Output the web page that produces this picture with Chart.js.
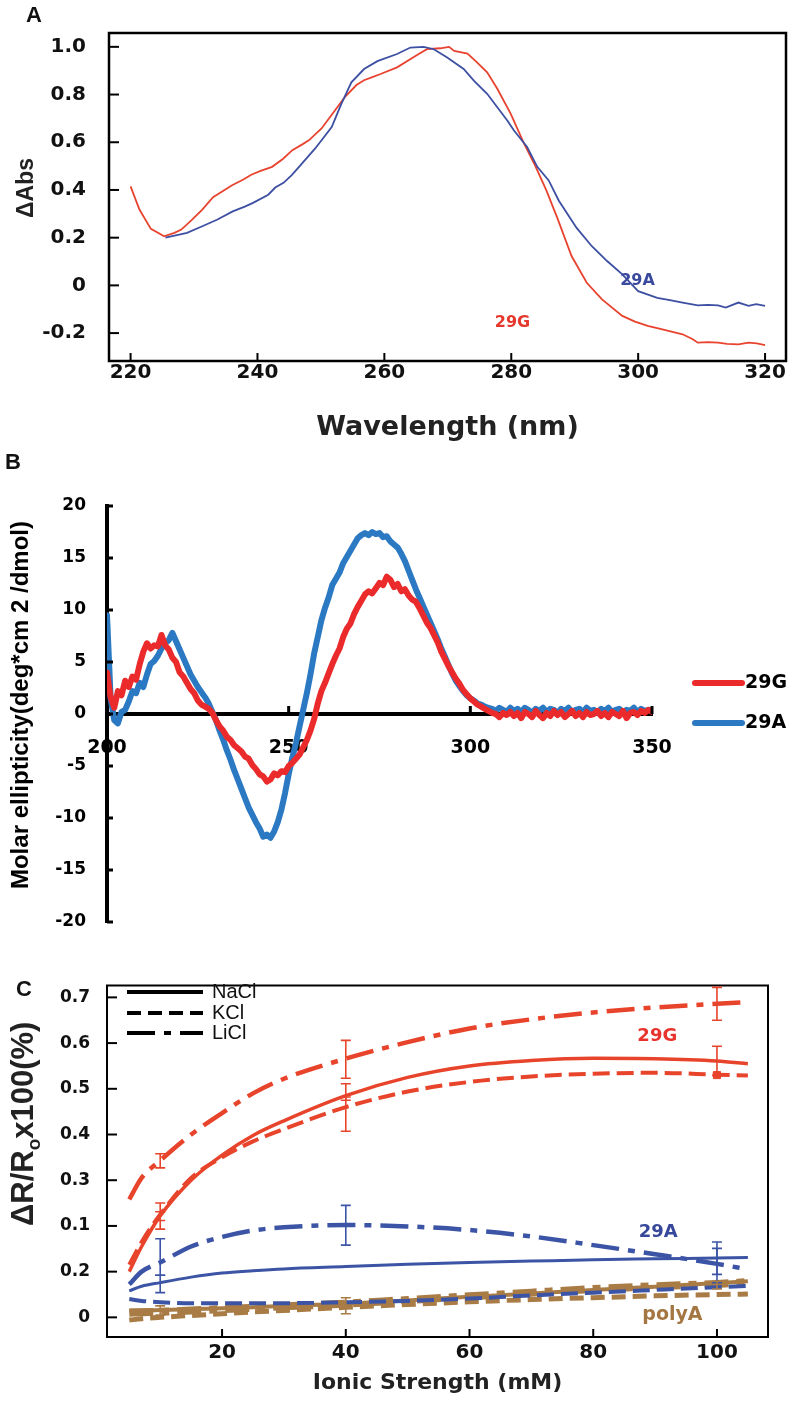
<!DOCTYPE html>
<html>
<head>
<meta charset="utf-8">
<script src="https://cdn.jsdelivr.net/npm/chart.js@4.4.1/dist/chart.umd.min.js"></script>
<style>
  html, body { margin: 0; padding: 0; background: #fff; }
  #wrap { position: relative; width: 792px; height: 1401px; overflow: hidden; }
  canvas { position: absolute; left: 0; }
</style>
</head>
<body>
<div id="wrap">
  <canvas id="chartA" width="792" height="450" style="top:0px"></canvas>
  <canvas id="chartB" width="792" height="510" style="top:450px"></canvas>
  <canvas id="chartC" width="792" height="441" style="top:960px"></canvas>
</div>
<script>
// ---- panel A : absorbance difference spectra ----
const absWaveG = [220, 221.4, 223.2, 225.3, 226.9, 228, 229.7, 231.3, 233, 234.5, 236, 237.7, 239.1, 240.5, 242.3,
  244, 245.5, 247, 248.1, 250.1, 252.2, 253.8, 255.6, 256.8, 258, 259.4, 262, 264.9, 266.7, 268.8,
  270.2, 271, 273.1, 274.6, 276.2, 277.8, 279.9, 282, 283.6, 285.5, 287.3, 289.5, 291.9, 294.3, 297.5,
  299.5, 301.5, 303.5, 305.4, 307, 308.6, 309.4, 311, 312.6, 314, 315.8, 317.4, 318.7, 320];
const absG = [0.415, 0.318, 0.237, 0.206, 0.22, 0.234, 0.276, 0.318, 0.37, 0.395, 0.42, 0.443, 0.465, 0.48, 0.497,
  0.53, 0.567, 0.59, 0.608, 0.658, 0.733, 0.79, 0.84, 0.86, 0.872, 0.886, 0.914, 0.962, 0.99, 0.994,
  1.0, 0.983, 0.972, 0.935, 0.893, 0.824, 0.72, 0.595, 0.511, 0.40, 0.28, 0.123, 0.011, -0.059, -0.128,
  -0.152, -0.17, -0.182, -0.195, -0.205, -0.226, -0.24, -0.238, -0.24, -0.245, -0.247, -0.24, -0.243, -0.25];
const absWaveA = [225.5, 228.9, 231.3, 233.7, 236.1, 238, 239.3, 241.7, 242.8, 244.1, 245.4, 247, 249.1, 251.7, 253.2,
  254.8, 256.8, 258.9, 262, 264.1, 266.2, 267.8, 269.9, 272.5, 274.1, 276.2, 277.8, 279.4, 280.4, 282.5,
  284.1, 285.9, 287.5, 290.3, 292.7, 295.1, 297.5, 300, 303, 305, 307, 309.4, 311, 312.6, 313.8,
  315.8, 317.4, 318.6, 320];
const absA = [0.2, 0.22, 0.248, 0.276, 0.31, 0.33, 0.346, 0.38, 0.41, 0.43, 0.4625, 0.51, 0.574, 0.664, 0.76,
  0.851, 0.907, 0.94, 0.97, 0.997, 1.0, 0.99, 0.955, 0.907, 0.858, 0.803, 0.747, 0.69, 0.65, 0.58,
  0.497, 0.44, 0.355, 0.241, 0.164, 0.102, 0.046, -0.024, -0.052, -0.062, -0.072, -0.084, -0.082, -0.084, -0.093,
  -0.072, -0.086, -0.079, -0.086];

// ---- panel B : CD spectra, 1 nm steps from 200 to 350 nm ----
const cdStart = 200;
const cd29G = [
  4.0, 1.6, 0.6, 2.2, 1.8, 3.2, 2.6, 3.6, 3.3, 4.8,
  6.0, 6.8, 6.3, 6.6, 6.5, 7.6, 6.6, 6.2, 5.4, 5.0,
  4.0, 3.6, 3.0, 2.4, 2.0, 1.3, 0.9, 0.7, 0.5, 0.1,
  -0.6, -1.2, -1.6, -2.2, -2.5, -3.0, -3.3, -3.6, -4.1, -4.3,
  -4.9, -5.3, -5.8, -6.0, -6.5, -6.3, -5.7, -5.9, -5.5, -5.6,
  -5.0, -4.7, -4.3, -3.9, -3.2, -2.5, -1.6, -0.5, 1.0, 2.2,
  3.0, 3.9, 4.8, 5.6, 6.3, 7.4, 8.2, 8.7, 9.6, 10.3,
  10.9, 11.5, 11.8, 11.6, 12.1, 12.6, 12.4, 13.2, 12.9, 12.2,
  12.5, 11.8, 12.0, 11.4, 11.0, 10.8, 10.2, 9.5, 8.8, 8.3,
  7.6, 6.9, 6.0, 5.3, 4.6, 4.0, 3.4, 2.9, 2.3, 1.9,
  1.5, 1.2, 0.9, 0.7, 0.5, 0.3, 0.1, 0.0, -0.3, 0.1,
  -0.1, 0.2, -0.2, 0.1, -0.4, 0.2, 0.0, -0.3, 0.3, -0.1,
  -0.4, 0.1, -0.2, 0.3, -0.1, 0.2, -0.3, 0.0, 0.3, -0.2,
  0.1, -0.3, 0.2, -0.1, 0.0, 0.3, -0.2, 0.1, -0.3, 0.2,
  0.0, -0.2, 0.3, -0.4, 0.1, 0.2, -0.1, 0.3, 0.1, 0.4,
  0.2];
const cd29A = [
  9.5, 1.5, -0.6, -0.9, 0.2, 0.4, 1.2, 2.2, 2.0, 3.0,
  2.6, 3.8, 4.8, 5.1, 5.6, 6.3, 6.8, 7.1, 7.8, 7.0,
  6.2, 5.4, 4.6, 3.8, 3.2, 2.6, 2.1, 1.6, 1.0, 0.2,
  -0.6, -1.6, -2.5, -3.5, -4.4, -5.4, -6.3, -7.2, -8.1, -9.0,
  -9.7, -10.4, -11.0, -11.8, -11.6, -11.9, -11.3, -10.4, -9.2, -7.6,
  -5.8, -4.2, -2.8, -1.2, 0.4, 2.0, 3.8, 5.8, 7.4, 9.0,
  10.2, 11.2, 12.4, 13.0, 13.6, 14.5, 15.1, 15.7, 16.3, 16.9,
  17.2, 17.4, 17.2, 17.5, 17.3, 17.4, 17.0, 17.1, 16.6, 16.3,
  16.0, 15.4, 14.7, 13.8, 12.9, 12.0, 11.2, 10.4, 9.6, 8.8,
  8.0, 7.2, 6.3, 5.5, 4.7, 3.9, 3.2, 2.7, 2.2, 1.8,
  1.5, 1.3, 1.0, 0.9, 0.7, 0.6, 0.5, 0.3, 0.6, 0.4,
  0.2, 0.6, 0.3, 0.5, 0.2, 0.6, 0.4, 0.1, 0.5, 0.3,
  0.6, 0.2, 0.5, 0.4, 0.1, 0.5, 0.3, 0.6, 0.2, 0.4,
  0.5, 0.2, 0.6, 0.3, 0.4, 0.1, 0.5, 0.3, 0.6, 0.2,
  0.4, 0.5, 0.2, 0.4, 0.3, 0.6, 0.2, 0.5, 0.3, 0.4,
  0.3];

// ---- panel C : fitted curves vs ionic strength (y in axis position units) ----
const ionicX   = [5, 7, 10, 15, 20, 25, 30, 40, 50, 60, 70, 80, 90, 100, 105];
const g29NaCl  = [0.10, 0.155, 0.222, 0.30, 0.355, 0.398, 0.43, 0.485, 0.525, 0.55, 0.562, 0.567, 0.566, 0.561, 0.555];
const g29KCl   = [0.115, 0.165, 0.225, 0.305, 0.35, 0.385, 0.412, 0.46, 0.494, 0.515, 0.527, 0.533, 0.535, 0.531, 0.529];
const g29LiCl  = [0.258, 0.305, 0.343, 0.40, 0.447, 0.49, 0.522, 0.566, 0.602, 0.632, 0.652, 0.667, 0.678, 0.686, 0.69];
const a29NaCl  = [0.058, 0.068, 0.076, 0.088, 0.097, 0.102, 0.106, 0.111, 0.116, 0.12, 0.123, 0.126, 0.128, 0.13, 0.131];
const a29KCl   = [0.04, 0.036, 0.033, 0.031, 0.031, 0.031, 0.031, 0.033, 0.036, 0.041, 0.048, 0.054, 0.06, 0.066, 0.069];
const a29LiCl  = [0.072, 0.1, 0.12, 0.155, 0.176, 0.19, 0.197, 0.202, 0.199, 0.191, 0.177, 0.158, 0.138, 0.117, 0.105];
const polyNaCl = [0.015, 0.015, 0.016, 0.018, 0.02, 0.022, 0.025, 0.03, 0.037, 0.045, 0.052, 0.06, 0.067, 0.075, 0.079];
const polyKCl  = [-0.006, -0.003, 0.0, 0.004, 0.008, 0.012, 0.015, 0.022, 0.028, 0.034, 0.039, 0.043, 0.047, 0.05, 0.051];
const polyLiCl = [0.01, 0.011, 0.012, 0.015, 0.018, 0.021, 0.024, 0.03, 0.038, 0.046, 0.054, 0.062, 0.068, 0.073, 0.077];
// error bars
const gErrX  = [10, 10, 10, 40, 40, 40, 100, 100];
const gErrLo = [0.327, 0.193, 0.212, 0.523, 0.475, 0.407, 0.650, 0.529];
const gErrHi = [0.358, 0.231, 0.250, 0.606, 0.511, 0.482, 0.722, 0.593];
const aErrX  = [10, 10, 40, 100, 100];
const aErrLo = [0.092, 0.054, 0.158, 0.094, 0.076];
const aErrHi = [0.172, 0.092, 0.245, 0.165, 0.151];
const pErrX  = [10, 40, 100];
const pErrLo = [0.005, 0.008, 0.062];
const pErrHi = [0.025, 0.043, 0.079];
const gKClMark = [100, 0.53];
// odd tick labels printed on the panel C y axis, bottom to top
const cTickText = ['0', '0.2', '0.1', '0.3', '0.4', '0.5', '0.6', '0.7'];

const redA = '#e8432f', blueA = '#3d4fa2';
const redB = '#ea2a2b', blueB = '#2b79c2';
const redC = '#e8442c', blueC = '#3c54a5', brownC = '#a97c46';

const pts = (xs, ys) => xs.map((x, i) => ({ x: x, y: ys[i] }));
const cdPts = ys => ys.map((v, i) => ({ x: cdStart + i, y: v }));
const dj = (size) => ({ family: 'DejaVu Sans', weight: 'bold', size: size, lineHeight: 1 });

// box frame + ticks drawn inside the plot
function frameTicks(o) {
  return {
    id: 'frameTicks',
    afterDatasetsDraw(chart) {
      const { ctx, chartArea: a, scales: { x, y } } = chart;
      ctx.save();
      ctx.strokeStyle = '#000';
      if (o.box) {
        ctx.lineWidth = o.box;
        ctx.strokeRect(a.left, a.top, a.right - a.left, a.bottom - a.top);
      }
      ctx.lineWidth = o.tickWidth;
      const xBase = o.xAt == null ? a.bottom : y.getPixelForValue(o.xAt);
      x.ticks.forEach(t => {
        const p = x.getPixelForValue(t.value);
        ctx.beginPath(); ctx.moveTo(p, xBase); ctx.lineTo(p, xBase - o.xLen); ctx.stroke();
      });
      y.ticks.forEach(t => {
        const p = y.getPixelForValue(t.value);
        ctx.beginPath(); ctx.moveTo(a.left, p); ctx.lineTo(a.left + o.yLen, p); ctx.stroke();
      });
      ctx.restore();
    }
  };
}

// free text and legend strokes
function notes(items, lines) {
  return {
    id: 'notes',
    afterDraw(chart) {
      const { ctx, scales } = chart;
      (lines || []).forEach(l => {
        ctx.save();
        ctx.strokeStyle = l.color; ctx.lineWidth = l.width; ctx.lineCap = l.cap || 'butt';
        ctx.setLineDash(l.dash || []);
        ctx.beginPath(); ctx.moveTo(l.x1, l.y); ctx.lineTo(l.x2, l.y); ctx.stroke();
        ctx.restore();
      });
      items.forEach(n => {
        ctx.save();
        let px = n.x, py = n.y;
        if (n.data) { px = scales.x.getPixelForValue(n.x); py = scales.y.getPixelForValue(n.y); }
        ctx.translate(px, py);
        if (n.rot) ctx.rotate(n.rot);
        ctx.fillStyle = n.color || '#111';
        ctx.textBaseline = n.base || 'middle';
        ctx.textAlign = 'left';
        const segs = n.segs || [{ text: n.text, font: n.font }];
        let total = 0;
        segs.forEach(s => { ctx.font = s.font; s.w = ctx.measureText(s.text).width; total += s.w; });
        let cx = n.align === 'left' ? 0 : n.align === 'right' ? -total : -total / 2;
        segs.forEach(s => { ctx.font = s.font; ctx.fillText(s.text, cx, s.dy || 0); cx += s.w; });
        ctx.restore();
      });
    }
  };
}

function errorBars(groups) {
  return {
    id: 'errorBars',
    afterDatasetsDraw(chart) {
      const { ctx, scales: { x, y } } = chart;
      ctx.save();
      groups.forEach(g => {
        ctx.strokeStyle = g.color; ctx.lineWidth = 1.6;
        g.xs.forEach((xv, i) => {
          const px = x.getPixelForValue(xv);
          const lo = y.getPixelForValue(g.lo[i]), hi = y.getPixelForValue(g.hi[i]);
          ctx.beginPath();
          ctx.moveTo(px, lo); ctx.lineTo(px, hi);
          ctx.moveTo(px - 5, lo); ctx.lineTo(px + 5, lo);
          ctx.moveTo(px - 5, hi); ctx.lineTo(px + 5, hi);
          ctx.stroke();
        });
      });
      ctx.restore();
    }
  };
}

const baseOpts = {
  responsive: false, animation: false, devicePixelRatio: 1,
  plugins: { legend: { display: false }, tooltip: { enabled: false } },
  elements: { point: { radius: 0 } }
};
const noGrid = { display: false, drawTicks: false };

// ================= A =================
new Chart(document.getElementById('chartA'), {
  type: 'line',
  data: {
    datasets: [
      { data: pts(absWaveA, absA), borderColor: blueA, borderWidth: 1.8, tension: 0 },
      { data: pts(absWaveG, absG), borderColor: redA, borderWidth: 1.8, tension: 0 }
    ]
  },
  options: {
    ...baseOpts,
    layout: { padding: { top: 32, left: 0, right: 6, bottom: 0 } },
    scales: {
      x: {
        type: 'linear', min: 216.6, max: 323.3,
        grid: noGrid, border: { display: false },
        ticks: { stepSize: 20, includeBounds: false, maxRotation: 0, autoSkip: false, padding: 1.5, color: '#111', font: dj(20), callback: v => String(v) },
        title: { display: true, text: 'Wavelength (nm)', color: '#222', font: dj(27), padding: { top: 0, bottom: 8.5 } },
        afterFit: s => { s.height = 89; }
      },
      y: {
        type: 'linear', min: -0.317, max: 1.058,
        grid: noGrid, border: { display: false },
        ticks: {
          stepSize: 0.2, includeBounds: false, padding: 23, color: '#111', font: dj(20),
          callback: v => { const r = Math.round(v * 10) / 10; return r === 0 ? '0' : r.toFixed(1); }
        },
        afterFit: s => { s.width = 109; }
      }
    }
  },
  plugins: [
    frameTicks({ box: 2.5, tickWidth: 2, xLen: 8, yLen: 10 }),
    notes([
      { text: 'A', x: 34, y: 16, font: 'bold 22px "Liberation Sans", Arial', color: '#111' },
      { text: 'ΔAbs', x: 33, y: 188, rot: -Math.PI / 2, base: 'alphabetic', font: 'bold 23px "Liberation Sans", Arial', color: '#222' },
      { text: '29A', x: 299.9, y: 0.018, data: true, font: 'bold 16px "DejaVu Sans"', color: '#3a4a9f' },
      { text: '29G', x: 280.2, y: -0.158, data: true, font: 'bold 16px "DejaVu Sans"', color: '#e5382c' }
    ])
  ]
});

// ================= B =================
new Chart(document.getElementById('chartB'), {
  type: 'line',
  data: {
    datasets: [
      { data: cdPts(cd29G), borderColor: redB, borderWidth: 6, tension: 0, borderJoinStyle: 'round', borderCapStyle: 'round' },
      { data: cdPts(cd29A), borderColor: blueB, borderWidth: 6, tension: 0, borderJoinStyle: 'round', borderCapStyle: 'round' }
    ]
  },
  options: {
    ...baseOpts,
    layout: { padding: { top: 56, left: 0, right: 140, bottom: 38 } },
    scales: {
      x: {
        type: 'linear', min: 200, max: 350, position: { y: 0 },
        grid: noGrid, border: { display: true, color: '#000', width: 4 },
        ticks: { stepSize: 50, includeBounds: false, maxRotation: 0, autoSkip: false, padding: 24.5, color: '#000', font: dj(19), callback: v => String(v) },
        afterFit: s => { s.height = 0; }
      },
      y: {
        type: 'linear', min: -20, max: 20,
        grid: noGrid, border: { display: true, color: '#000', width: 4 },
        ticks: { stepSize: 5, includeBounds: false, padding: 21, color: '#000', font: dj(17), callback: v => String(v) },
        afterFit: s => { s.width = 107; }
      }
    }
  },
  plugins: [
    frameTicks({ box: 0, tickWidth: 3, xLen: 8, yLen: 6, xAt: 0 }),
    notes([
      { text: 'B', x: 13, y: 13, font: 'bold 22px "Liberation Sans", Arial', color: '#111' },
      { text: 'Molar ellipticity(deg*cm 2 /dmol)', x: 28, y: 255, rot: -Math.PI / 2, base: 'alphabetic', font: 'bold 24px "Liberation Sans", Arial', color: '#000' },
      { text: '29G', x: 745, y: 233, align: 'left', font: 'bold 19px "DejaVu Sans"', color: '#000' },
      { text: '29A', x: 745, y: 273, align: 'left', font: 'bold 19px "DejaVu Sans"', color: '#000' }
    ], [
      { x1: 695, x2: 742, y: 233, color: redB, width: 6, cap: 'round' },
      { x1: 695, x2: 742, y: 273, color: blueB, width: 6, cap: 'round' }
    ])
  ]
});

// ================= C =================
const fit = (ys, color, width, dash) => ({
  data: pts(ionicX, ys), borderColor: color, borderWidth: width, borderDash: dash,
  tension: 0.4, cubicInterpolationMode: 'monotone', borderCapStyle: 'butt'
});
const kDash = [17, 7], lDash = [28, 9, 7, 9];
new Chart(document.getElementById('chartC'), {
  type: 'line',
  data: {
    datasets: [
      fit(g29LiCl, redC, 4.5, lDash),
      fit(g29KCl, redC, 4, kDash),
      fit(g29NaCl, redC, 3.5, []),
      fit(a29LiCl, blueC, 4.5, lDash),
      fit(a29KCl, blueC, 4, kDash),
      fit(a29NaCl, blueC, 3, []),
      fit(polyKCl, brownC, 5, [14, 7]),
      fit(polyLiCl, brownC, 8, [24, 8, 8, 8]),
      fit(polyNaCl, brownC, 4, []),
      { data: [{ x: gKClMark[0], y: gKClMark[1] }], showLine: false, pointStyle: 'rect', pointRadius: 5, backgroundColor: redC, borderColor: redC }
    ]
  },
  options: {
    ...baseOpts,
    layout: { padding: { top: 18, left: 0, right: 24, bottom: 0 } },
    scales: {
      x: {
        type: 'linear', min: 1.4, max: 108.25,
        grid: noGrid, border: { display: false },
        ticks: { stepSize: 20, includeBounds: false, maxRotation: 0, autoSkip: false, padding: 6, color: '#111', font: dj(20), callback: v => String(v) },
        title: { display: true, text: 'Ionic Strength (mM)', color: '#222', font: dj(22), padding: { top: 0, bottom: 7 } },
        afterFit: s => { s.height = 64; }
      },
      y: {
        type: 'linear', min: -0.043, max: 0.726,
        grid: noGrid, border: { display: false },
        ticks: {
          stepSize: 0.1, includeBounds: false, padding: 17, color: '#111', font: dj(17),
          callback: v => cTickText[Math.round(v * 10)]
        },
        afterFit: s => { s.width = 107; }
      }
    }
  },
  plugins: [
    frameTicks({ box: 2, tickWidth: 2, xLen: 8, yLen: 10 }),
    errorBars([
      { xs: gErrX, lo: gErrLo, hi: gErrHi, color: redC },
      { xs: aErrX, lo: aErrLo, hi: aErrHi, color: blueC },
      { xs: pErrX, lo: pErrLo, hi: pErrHi, color: brownC }
    ]),
    notes([
      { text: 'C', x: 24, y: 30, font: 'bold 22px "Liberation Sans", Arial', color: '#111' },
      { segs: [
          { text: 'ΔR/R', font: 'bold 31px "Liberation Sans", Arial' },
          { text: 'o', font: 'bold 19px "Liberation Sans", Arial', dy: 7 },
          { text: 'x100(%)', font: 'bold 31px "Liberation Sans", Arial' }
        ], x: 33, y: 266, rot: -Math.PI / 2, base: 'alphabetic', align: 'left', color: '#222' },
      { text: 'NaCl', x: 212, y: 32, align: 'left', font: '20px "Liberation Sans", Arial', color: '#111' },
      { text: 'KCl', x: 212, y: 53, align: 'left', font: '20px "Liberation Sans", Arial', color: '#111' },
      { text: 'LiCl', x: 212, y: 73, align: 'left', font: '20px "Liberation Sans", Arial', color: '#111' },
      { text: '29G', x: 90.35, y: 0.615, data: true, font: 'bold 18px "DejaVu Sans"', color: '#e8322c' },
      { text: '29A', x: 90.5, y: 0.186, data: true, font: 'bold 18px "DejaVu Sans"', color: '#37479a' },
      { text: 'polyA', x: 92.8, y: 0.004, data: true, font: 'bold 19px "DejaVu Sans"', color: '#a47642' }
    ], [
      { x1: 127, x2: 203, y: 32, color: '#000', width: 4 },
      { x1: 127, x2: 203, y: 53, color: '#000', width: 4, dash: [14, 7] },
      { x1: 127, x2: 203, y: 73, color: '#000', width: 4, dash: [28, 9, 7, 9] }
    ])
  ]
});
</script>
</body>
</html>
